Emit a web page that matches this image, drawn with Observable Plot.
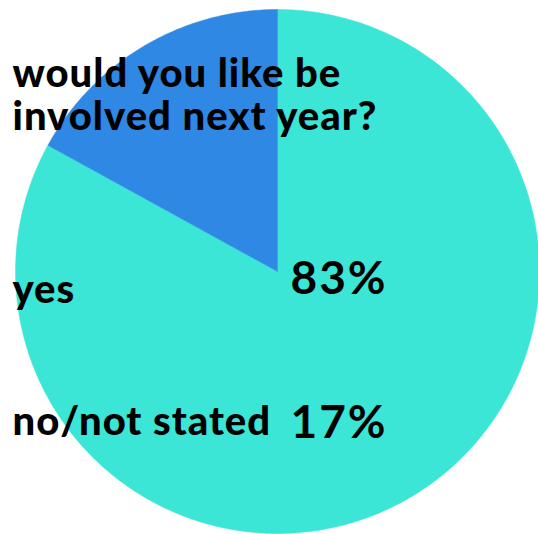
<!DOCTYPE html>
<html>
<head>
<meta charset="utf-8">
<script src="https://cdn.jsdelivr.net/npm/d3@7"></script>
<script src="https://cdn.jsdelivr.net/npm/@observablehq/plot@0.6"></script>
<style>
  html, body { margin: 0; padding: 0; background: #ffffff; }
  #chart svg { display: block; }
</style>
</head>
<body>
<div id="chart"></div>
<script>
// ---- data ----
const title = "would you like be\ninvolved next year?";
const categories = ["yes", "no/not stated"];
const values = [83, 17];
const colors = ["#3be6d6", "#3088e5"];

// ---- layout ----
const W = 538, H = 534;
const cx = 277, cy = 271, R = 262;
const labelFont = "Lato, sans-serif";
const labelSize = 40, pctSize = 46;

// pie geometry from d3.pie (unit radius, angle 0 at 12 o'clock, clockwise)
const arcs = d3.pie().sort(null).value(d => d.value)(
  categories.map((c, i) => ({category: c, value: values[i]}))
);
const points = [];
for (const a of arcs) {
  const n = Math.max(2, Math.ceil((a.endAngle - a.startAngle) / 0.01));
  points.push({category: a.data.category, x: 0, y: 0});
  for (let k = 0; k <= n; k++) {
    const t = a.startAngle + (a.endAngle - a.startAngle) * k / n;
    points.push({category: a.data.category, x: Math.sin(t), y: -Math.cos(t)});
  }
  points.push({category: a.data.category, x: 0, y: 0});
}

// baseline positions (px) -> top-anchored offsets
const topOf = (baseline, size) => baseline - 0.71 * size;

const textCommon = {
  frameAnchor: "top-left", lineAnchor: "top", textAnchor: "start",
  fontFamily: labelFont, fill: "#000"
};

const chart = Plot.plot({
  width: W,
  height: H,
  margin: 0,
  style: {background: "#ffffff", overflow: "visible"},
  x: {domain: [-cx / R, (W - cx) / R], range: [0, W], axis: null},
  y: {domain: [-cy / R, (H - cy) / R], range: [0, H], axis: null},
  color: {domain: categories, range: colors},
  marks: [
    Plot.line(points, {x: "x", y: "y", z: "category", fill: "category", stroke: "category", strokeWidth: 0.5, curve: "linear"}),
    // title
    Plot.text([title], {
      ...textCommon, text: d => d, dx: 12, dy: topOf(84, labelSize), lineHeight: 1.075,
      fontSize: labelSize, fontWeight: 900
    }),
    // category labels
    Plot.text([categories[0]], {
      ...textCommon, text: d => d, dx: 12, dy: topOf(302, labelSize),
      fontSize: labelSize, fontWeight: 900
    }),
    Plot.text([categories[1]], {
      ...textCommon, text: d => d, dx: 12, dy: topOf(434, labelSize),
      fontSize: labelSize, fontWeight: 900
    }),
    // percentage labels
    Plot.text([values[0]], {
      ...textCommon, text: d => d + "%", dx: 290, dy: topOf(293, pctSize),
      fontSize: pctSize, fontWeight: 700
    }),
    Plot.text([values[1]], {
      ...textCommon, text: d => d + "%", dx: 290, dy: topOf(437, pctSize),
      fontSize: pctSize, fontWeight: 700
    })
  ]
});
// widen the lettering a little to match the reference's wide geometric face
d3.select(chart).selectAll("text").each(function() {
  const big = +this.getAttribute("font-size") > 42 ||
    (this.parentNode && +this.parentNode.getAttribute("font-size") > 42);
  this.setAttribute("letter-spacing", big ? "2px" : "1px");
});
document.getElementById("chart").appendChild(chart);
</script>
</body>
</html>
